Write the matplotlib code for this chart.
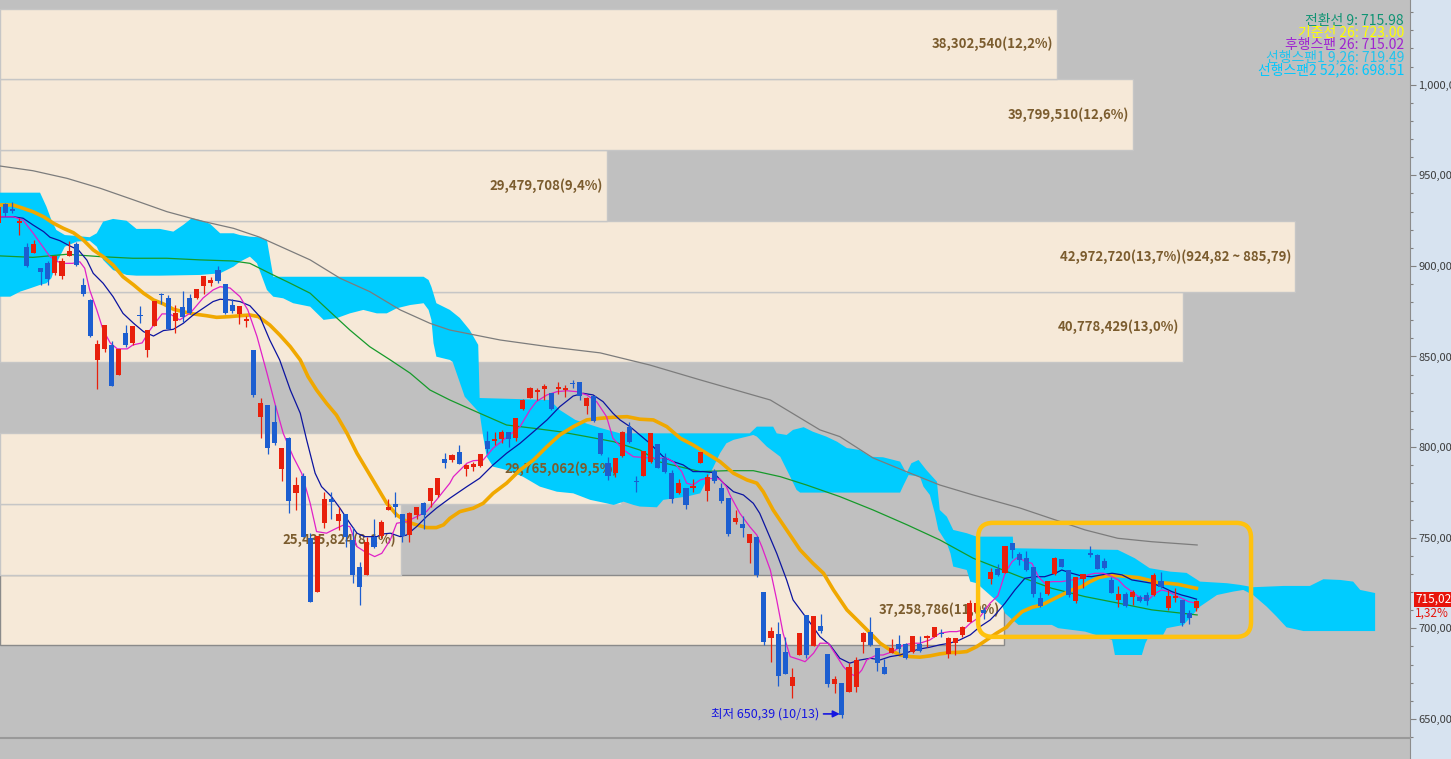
import numpy as np
import matplotlib
matplotlib.use("Agg")
import matplotlib.pyplot as plt
from matplotlib import transforms
from matplotlib.patches import FancyBboxPatch
from matplotlib.ticker import MultipleLocator, FuncFormatter

plt.rcParams['font.family'] = ['Noto Sans CJK KR', 'DejaVu Sans']

# daily candles, first one is index -1 (half cut at the left edge)
opens = [923.7, 934.1, 931.4, 923.9, 910.6, 907.3, 899.0, 901.8, 896.3, 894.4,
         905.5, 912.1, 889.5, 881.2, 848.1, 854.2, 856.4, 839.8, 863.0, 857.6,
         873.1, 853.6, 867.0, 884.7, 882.3, 869.6, 877.5, 882.1, 882.5, 889.1,
         890.7, 897.7, 889.8, 878.4, 873.5, 869.8, 853.6, 816.8, 823.3, 813.7,
         787.9, 804.9, 774.9, 784.1, 749.7, 719.9, 758.3, 771.4, 759.4, 763.1,
         748.8, 734.0, 729.5, 750.6, 751.0, 765.3, 768.6, 763.1, 751.5, 762.6,
         769.0, 770.5, 773.6, 793.3, 792.9, 797.2, 787.9, 788.9, 789.6, 803.4,
         803.4, 804.5, 808.5, 804.9, 820.9, 826.9, 830.3, 832.1, 829.7, 832.1,
         831.7, 835.2, 835.8, 822.9, 828.2, 807.6, 791.1, 785.6, 795.1, 811.3,
         781.3, 784.3, 792.0, 801.6, 793.9, 785.6, 774.5, 777.3, 777.3, 791.4,
         776.0, 786.8, 777.3, 771.8, 758.9, 757.6, 747.3, 750.6, 720.2, 694.9,
         696.9, 686.8, 668.4, 685.3, 707.4, 690.5, 701.3, 685.9, 669.3, 669.7,
         665.1, 667.8, 692.6, 698.2, 689.0, 678.9, 686.6, 691.4, 691.4, 686.8,
         691.4, 694.9, 695.4, 697.6, 685.7, 692.1, 696.4, 703.4, 709.0, 710.0,
         727.3, 732.6, 730.7, 746.9, 741.1, 738.7, 733.7, 716.6, 718.8, 729.9,
         738.1, 732.2, 715.3, 727.1, 741.4, 740.5, 737.2, 726.7, 715.7, 719.0,
         717.5, 717.5, 718.4, 718.4, 726.2, 711.1, 716.9, 715.7, 708.3, 711.1]
highs = [932.5, 934.5, 935.4, 926.3, 912.5, 914.3, 899.0, 902.7, 905.5, 904.5,
         913.9, 913.0, 893.5, 881.7, 859.1, 867.4, 858.7, 854.2, 867.4, 866.8,
         878.0, 864.6, 880.6, 885.2, 883.9, 878.4, 886.2, 884.3, 887.3, 894.4,
         894.0, 899.9, 889.8, 881.6, 877.9, 872.5, 853.6, 827.0, 823.3, 823.3,
         799.4, 805.8, 783.7, 785.9, 752.5, 751.0, 775.4, 775.4, 767.1, 763.1,
         756.1, 736.8, 750.6, 760.2, 759.8, 771.2, 775.4, 763.1, 764.4, 767.2,
         769.9, 777.3, 782.8, 796.9, 796.1, 801.2, 790.6, 792.0, 796.2, 808.9,
         808.5, 809.5, 808.5, 815.9, 826.4, 833.4, 832.5, 834.8, 829.7, 836.1,
         834.3, 837.0, 836.1, 827.5, 828.2, 807.6, 794.7, 793.9, 808.9, 814.0,
         784.1, 797.9, 807.6, 801.6, 796.6, 787.4, 782.3, 777.3, 782.3, 797.2,
         785.2, 787.8, 780.1, 771.8, 765.3, 762.0, 751.9, 751.0, 720.2, 700.6,
         703.7, 695.4, 678.3, 697.6, 707.4, 706.8, 707.8, 685.9, 673.9, 669.7,
         680.7, 684.4, 698.2, 706.1, 689.0, 683.1, 694.0, 696.4, 691.8, 695.8,
         695.8, 696.4, 700.9, 699.5, 695.4, 694.5, 701.5, 715.7, 716.0, 712.0,
         733.2, 735.5, 745.5, 746.9, 742.3, 742.7, 733.7, 720.2, 726.2, 739.2,
         738.1, 732.2, 728.5, 730.0, 745.5, 741.1, 738.7, 728.5, 723.4, 720.2,
         721.2, 718.4, 719.9, 730.4, 731.2, 721.2, 722.5, 715.7, 710.2, 715.7]
lows = [923.7, 927.7, 929.0, 917.0, 899.6, 907.3, 889.5, 889.5, 895.0, 892.6,
        905.5, 899.9, 883.6, 860.6, 832.1, 852.7, 833.9, 839.8, 855.4, 856.4,
        868.7, 849.9, 867.0, 878.8, 865.2, 862.8, 869.2, 873.4, 881.7, 884.5,
        889.1, 890.7, 873.4, 873.8, 867.8, 866.5, 827.8, 804.9, 796.0, 801.2,
        781.5, 763.5, 765.3, 750.6, 714.7, 719.9, 755.2, 760.2, 754.3, 745.1,
        724.9, 712.9, 729.5, 744.2, 749.7, 765.3, 761.6, 747.8, 747.8, 760.2,
        754.7, 767.2, 772.3, 788.4, 791.9, 790.5, 784.3, 786.8, 788.9, 796.9,
        801.2, 802.1, 799.9, 803.6, 820.5, 826.9, 826.0, 826.0, 820.5, 829.3,
        827.8, 832.5, 826.0, 818.1, 814.0, 795.7, 781.9, 783.4, 794.7, 802.1,
        775.4, 784.3, 791.1, 788.6, 785.6, 769.4, 774.0, 765.7, 775.4, 791.4,
        770.5, 780.1, 769.0, 751.0, 757.6, 750.6, 736.2, 728.5, 690.8, 681.6,
        668.2, 674.9, 661.8, 685.3, 683.5, 690.5, 697.6, 667.8, 664.2, 650.39,
        665.1, 665.1, 686.3, 690.3, 676.5, 674.7, 686.6, 686.3, 683.0, 686.3,
        687.1, 689.6, 695.1, 695.4, 683.9, 685.3, 695.4, 703.4, 707.0, 705.0,
        724.5, 728.9, 730.7, 738.7, 735.0, 731.7, 717.5, 712.0, 718.4, 729.5,
        734.0, 717.5, 713.9, 722.1, 739.6, 732.8, 732.6, 719.4, 712.0, 712.0,
        712.9, 714.7, 712.9, 717.9, 722.5, 710.2, 714.7, 701.5, 702.3, 709.8]
closes = [932.5, 929.4, 930.3, 924.6, 900.1, 912.1, 896.6, 893.0, 905.5, 902.7,
          908.2, 900.5, 884.5, 861.5, 856.9, 867.4, 833.9, 854.2, 856.4, 866.8,
          872.4, 864.6, 880.6, 884.1, 865.2, 873.8, 872.0, 873.8, 887.3, 894.4,
          892.2, 891.8, 873.8, 875.1, 877.9, 870.7, 828.8, 824.2, 799.7, 802.5,
          799.4, 770.5, 779.1, 750.6, 714.7, 751.0, 771.4, 769.9, 763.1, 750.6,
          729.5, 723.0, 747.8, 745.1, 758.9, 767.2, 767.2, 751.0, 763.5, 767.2,
          762.6, 777.3, 782.8, 791.1, 795.7, 790.5, 790.1, 790.7, 796.2, 798.8,
          804.5, 808.5, 804.5, 815.9, 826.0, 832.5, 831.5, 833.9, 820.9, 833.0,
          832.6, 834.7, 828.2, 826.9, 814.6, 796.2, 784.1, 793.9, 808.2, 803.0,
          780.6, 797.9, 807.6, 788.6, 786.5, 771.4, 780.1, 768.1, 778.6, 797.2,
          783.4, 781.5, 770.5, 752.1, 760.7, 755.2, 751.9, 729.5, 692.7, 698.7,
          673.8, 674.9, 673.4, 697.6, 685.3, 706.8, 698.6, 669.3, 672.1, 652.0,
          678.9, 682.6, 697.6, 690.9, 680.7, 674.7, 689.0, 688.6, 683.5, 695.8,
          687.7, 695.8, 700.6, 696.9, 694.9, 694.5, 700.9, 713.9, 714.0, 708.3,
          731.2, 729.5, 745.5, 743.3, 737.7, 732.2, 718.8, 712.5, 726.2, 738.7,
          734.0, 718.4, 728.5, 730.0, 740.5, 732.8, 733.5, 719.7, 719.0, 712.4,
          720.2, 715.3, 715.3, 729.5, 723.0, 718.0, 718.0, 703.2, 705.7, 715.02]
low_date = "10/13"

# moving averages: (bar position, price)
ma5 = [(-0.75, 927.1), (1.1, 927.1), (2.5, 925.3), (3.9, 918.2), (5.3, 910.6), (6.3, 905.1),
       (7.4, 902.3), (8.4, 901.4), (9.5, 901.4), (10.5, 902.3), (11.2, 898.7), (11.9, 886.7),
       (12.9, 875.7), (13.8, 864.6), (14.8, 857.5), (15.8, 854.2), (17.2, 854.2), (18.0, 856.4),
       (19.3, 857.5), (20.4, 864.6), (22.1, 873.5), (23.2, 873.5), (24.6, 870.2), (26.1, 874.0),
       (27.9, 882.3), (29.3, 886.7), (30.3, 888.5), (31.7, 887.8), (33.1, 883.0), (34.2, 875.7),
       (35.5, 861.0), (36.9, 840.9), (38.0, 824.4), (39.2, 807.6), (40.6, 794.7), (41.8, 785.6),
       (43.0, 769.0), (43.9, 753.4), (45.3, 752.5), (46.7, 755.2), (47.7, 757.0), (48.6, 756.1),
       (49.6, 745.1), (50.7, 742.3), (52.1, 739.6), (53.1, 741.4), (54.3, 748.8), (55.2, 758.0),
       (56.6, 758.9), (58.0, 761.6), (59.4, 764.4), (60.8, 770.8), (62.7, 780.1), (63.2, 783.7),
       (65.1, 791.1), (66.0, 792.5), (67.4, 792.9), (68.8, 799.4), (70.7, 805.4), (72.6, 811.3),
       (74.0, 820.5), (74.9, 825.1), (76.4, 828.8), (77.8, 830.6), (79.2, 831.1), (80.6, 830.6),
       (82.0, 828.8), (83.4, 825.1), (84.8, 816.8), (85.7, 804.9), (87.2, 798.4), (88.6, 794.7),
       (91.4, 793.9), (93.3, 793.9), (94.2, 792.0), (95.4, 786.5), (96.1, 780.1), (97.0, 779.1),
       (98.0, 781.9), (98.9, 782.8), (100.8, 782.4), (101.7, 778.2), (102.2, 773.6), (103.6, 763.5),
       (105.0, 756.1), (106.0, 751.5), (106.7, 745.1), (107.9, 732.2), (108.8, 715.7), (109.7, 697.3),
       (110.7, 684.4), (112.1, 682.6), (112.8, 681.6), (114.0, 686.3), (114.9, 691.8), (116.1, 691.8),
       (117.0, 686.3), (118.2, 678.9), (119.1, 675.2), (120.0, 673.4), (120.8, 677.0), (121.5, 682.6),
       (122.9, 685.3), (123.8, 685.3), (125.2, 687.2), (126.7, 690.9), (128.1, 691.8), (129.0, 691.8),
       (130.4, 693.6), (131.8, 697.3), (133.2, 698.2), (134.2, 698.2), (135.1, 699.1), (136.1, 702.8),
       (137.5, 706.5), (138.9, 713.9), (140.0, 718.0), (141.0, 730.4), (142.0, 736.8), (142.9, 739.6),
       (143.8, 736.8), (144.8, 735.9), (145.7, 728.5), (146.6, 724.9), (147.6, 725.8), (149.0, 725.8),
       (150.4, 726.7), (151.8, 727.6), (152.7, 729.5), (153.7, 730.4), (154.9, 730.4), (156.1, 728.5),
       (157.0, 726.7), (157.9, 723.0), (158.9, 720.3), (159.8, 717.5), (161.2, 715.7), (162.2, 719.4),
       (163.1, 721.2), (164.0, 720.3), (165.0, 718.4), (165.9, 716.6), (166.9, 714.7), (168.0, 713.9)]
ma10 = [(-0.75, 927.1), (1.1, 927.1), (2.5, 926.3), (3.9, 922.6), (5.4, 918.9), (6.3, 915.8),
        (7.7, 913.9), (9.1, 911.0), (10.3, 908.8), (11.5, 903.2), (12.4, 895.9), (13.8, 890.4),
        (15.2, 883.0), (16.6, 873.8), (18.1, 868.3), (19.5, 863.7), (20.9, 861.3), (22.3, 864.3),
        (23.7, 865.0), (25.1, 868.3), (26.5, 872.9), (27.9, 876.6), (29.3, 880.3), (30.3, 881.6),
        (31.7, 881.2), (33.1, 880.3), (34.5, 878.0), (35.9, 872.0), (37.3, 859.1), (38.7, 848.1),
        (40.2, 831.5), (41.6, 818.7), (42.5, 804.0), (43.7, 785.6), (44.6, 778.2), (46.0, 772.7),
        (47.2, 766.3), (48.6, 758.0), (49.6, 752.5), (50.7, 750.6), (52.4, 750.6), (53.3, 752.1),
        (54.3, 752.5), (55.7, 750.6), (56.6, 751.5), (58.0, 756.1), (59.4, 761.6), (60.8, 766.3),
        (62.7, 771.8), (65.1, 778.2), (66.9, 782.8), (68.8, 790.2), (70.7, 796.6), (72.6, 802.1),
        (74.5, 808.5), (76.4, 815.0), (78.2, 822.3), (80.1, 828.2), (81.5, 829.7), (82.9, 828.8),
        (84.3, 825.1), (85.7, 818.7), (86.7, 815.0), (88.1, 811.3), (89.5, 806.7), (90.9, 802.1),
        (92.8, 794.7), (94.2, 792.0), (95.6, 790.2), (97.0, 786.5), (98.4, 786.5), (99.9, 785.9),
        (101.3, 780.1), (102.7, 775.4), (104.1, 773.6), (105.5, 769.0), (106.4, 763.5), (107.4, 754.3),
        (108.8, 741.4), (110.2, 726.7), (111.1, 715.7), (112.5, 708.3), (113.9, 701.0), (114.9, 695.4),
        (116.3, 690.9), (117.7, 683.5), (119.1, 680.8), (120.5, 682.5), (122.0, 683.5), (123.4, 682.6),
        (124.8, 684.4), (126.2, 685.3), (127.6, 687.2), (129.0, 688.6), (130.4, 689.6), (131.8, 690.9),
        (133.2, 691.8), (134.6, 693.6), (136.1, 696.4), (137.5, 701.0), (138.9, 704.6), (139.6, 707.4),
        (141.0, 713.9), (142.4, 721.2), (143.8, 727.6), (145.2, 728.5), (146.6, 728.5), (148.1, 730.4),
        (149.0, 732.2), (150.4, 730.4), (151.8, 728.9), (153.2, 728.5), (154.6, 729.5), (156.1, 730.4),
        (157.5, 729.5), (158.9, 726.7), (160.3, 725.8), (161.7, 724.9), (163.1, 723.0), (164.5, 720.3),
        (165.9, 718.4), (166.8, 717.5), (168.0, 716.1)]
ma20 = [(-0.75, 933.6), (1.1, 933.6), (2.5, 931.8), (3.9, 929.9), (5.4, 927.1), (6.8, 923.5),
        (8.2, 920.7), (9.6, 918.3), (11.0, 914.3), (12.4, 908.8), (13.8, 905.1), (15.2, 900.5),
        (16.6, 894.0), (18.1, 889.5), (19.5, 884.9), (20.9, 881.2), (22.3, 879.0), (23.7, 876.1),
        (25.1, 874.7), (26.5, 873.5), (28.4, 872.5), (29.8, 871.6), (31.7, 872.0), (33.1, 872.5),
        (34.5, 872.9), (35.7, 872.0), (37.3, 867.4), (38.7, 861.9), (40.2, 855.4), (41.6, 848.1),
        (42.7, 838.9), (43.9, 831.5), (45.3, 824.2), (46.7, 817.7), (48.2, 807.6), (49.6, 796.6),
        (51.0, 787.4), (52.4, 778.2), (53.8, 769.0), (55.2, 762.6), (56.6, 758.9), (58.0, 757.1),
        (59.4, 755.6), (60.8, 755.6), (61.8, 757.1), (62.7, 760.7), (64.1, 764.4), (66.0, 766.3),
        (67.4, 769.0), (68.8, 774.5), (70.7, 780.1), (72.6, 787.4), (74.5, 792.9), (76.4, 800.3),
        (78.2, 806.7), (80.1, 811.3), (82.0, 815.0), (83.9, 815.9), (85.8, 816.5), (87.7, 816.8),
        (89.5, 815.4), (91.4, 815.0), (93.3, 811.3), (95.2, 804.9), (97.0, 801.2), (98.9, 796.6),
        (100.8, 792.0), (102.7, 785.6), (104.6, 781.9), (106.0, 780.1), (106.9, 775.4), (108.3, 765.3),
        (110.2, 754.3), (112.1, 743.3), (113.9, 735.9), (115.4, 730.4), (116.8, 721.2), (118.7, 710.2),
        (120.6, 702.8), (122.0, 697.3), (123.4, 691.8), (124.8, 688.1), (126.2, 685.3), (127.6, 684.4),
        (129.0, 684.1), (130.4, 684.8), (131.8, 685.9), (133.2, 686.6), (134.6, 686.8), (135.6, 687.2),
        (137.0, 689.9), (138.4, 693.6), (139.8, 697.3), (141.2, 700.6), (141.9, 703.7), (143.4, 709.2),
        (144.8, 711.6), (146.2, 712.9), (147.6, 715.7), (149.0, 718.4), (150.4, 721.2), (151.8, 723.0),
        (152.7, 725.2), (154.2, 728.0), (155.6, 729.1), (157.0, 729.1), (158.4, 728.5), (159.8, 728.0),
        (161.2, 726.7), (162.6, 725.2), (164.0, 724.9), (165.4, 724.3), (166.9, 723.0), (168.0, 722.1)]
ma60 = [(-0.75, 905.5), (3.9, 904.7), (8.7, 906.4), (13.4, 905.1), (18.0, 904.2), (22.8, 904.2),
        (27.5, 903.3), (32.1, 902.7), (34.5, 901.4), (37.3, 895.9), (40.2, 890.4), (43.0, 884.9),
        (45.8, 874.7), (48.6, 864.6), (51.4, 855.4), (54.3, 848.1), (57.1, 840.8), (59.9, 831.5),
        (62.7, 826.0), (66.9, 818.7), (70.7, 812.2), (74.5, 810.4), (78.2, 808.5), (82.0, 805.8),
        (85.8, 803.0), (89.5, 798.4), (92.3, 791.8), (98.0, 786.5), (101.8, 787.0), (105.5, 787.0),
        (109.3, 783.7), (113.0, 779.1), (117.7, 772.7), (122.4, 765.3), (127.2, 757.1), (131.8, 748.8),
        (136.5, 738.7), (143.1, 728.5), (147.6, 722.1), (152.3, 717.5), (157.0, 713.9), (161.7, 710.2),
        (168.1, 707.4)]
ma120 = [(-0.75, 955.1), (3.9, 952.5), (8.7, 948.3), (13.4, 942.8), (18.1, 936.4), (22.8, 929.9),
         (27.5, 924.9), (32.2, 920.7), (35.9, 915.8), (43.0, 903.3), (47.2, 893.2), (51.4, 885.8),
         (55.7, 875.7), (59.9, 868.3), (62.7, 864.6), (69.8, 859.1), (76.8, 855.3), (83.9, 852.0),
         (90.9, 845.3), (98.0, 837.1), (107.9, 826.0), (114.9, 809.5), (117.7, 805.8), (122.4, 794.0),
         (127.2, 786.3), (131.8, 779.1), (136.5, 773.6), (143.1, 766.4), (152.3, 754.3), (156.9, 749.7),
         (161.7, 747.8), (168.1, 746.0)]

# ichimoku cloud outline (upper and lower envelope), 26 bars ahead
cloud_top = [(-0.75, 940.4), (4.9, 940.4), (5.8, 932.7), (6.5, 925.3), (7.2, 919.8), (8.4, 917.0),
             (10.1, 916.5), (11.9, 915.8), (12.9, 918.0), (13.8, 924.4), (15.2, 925.9), (17.1, 924.9),
             (18.5, 920.4), (21.8, 920.4), (23.7, 918.9), (25.1, 922.6), (26.3, 926.3), (27.5, 925.3),
             (28.9, 923.1), (30.3, 918.0), (32.2, 918.0), (33.1, 917.0), (34.5, 916.1), (35.9, 915.8),
             (36.9, 914.3), (37.8, 894.0), (59.0, 894.0), (59.7, 892.2), (60.1, 888.4), (60.8, 879.4),
             (62.7, 875.7), (64.1, 871.3), (65.5, 864.6), (66.7, 856.4), (66.9, 827.1), (76.8, 826.0),
             (78.2, 820.5), (80.4, 815.0), (83.9, 810.6), (86.7, 807.6), (105.0, 807.6), (106.0, 811.3),
             (108.3, 811.3), (108.8, 807.6), (110.2, 806.7), (111.1, 809.5), (112.6, 811.0), (113.9, 808.5),
             (115.8, 805.8), (117.3, 803.0), (118.7, 799.5), (120.5, 798.4), (122.0, 794.7), (123.8, 794.4),
             (126.2, 792.0), (127.1, 785.6), (127.8, 791.1), (128.8, 792.9), (129.9, 787.4), (131.4, 780.9),
             (131.6, 772.7), (131.8, 765.3), (132.8, 761.6), (133.7, 754.3), (135.6, 752.5), (137.0, 750.6),
             (142.1, 750.6), (142.2, 744.2), (156.9, 743.3), (157.9, 741.4), (159.3, 738.7), (161.4, 733.2),
             (164.3, 731.3), (166.6, 730.6), (168.5, 725.8), (172.3, 724.9), (174.1, 724.0), (176.0, 722.7),
             (180.3, 723.4), (184.0, 723.4), (185.9, 727.1), (188.3, 726.7), (190.1, 725.8), (191.1, 721.2),
             (193.2, 719.49)]
cloud_bot = [(-0.75, 883.0), (0.7, 883.0), (2.1, 885.8), (3.5, 887.6), (4.9, 889.5), (5.8, 890.4),
             (6.5, 893.2), (7.2, 901.4), (8.4, 910.6), (10.1, 913.4), (11.9, 913.9), (12.9, 910.6),
             (13.8, 903.3), (15.2, 897.7), (17.1, 895.0), (18.5, 894.6), (21.8, 894.6), (27.5, 895.0),
             (30.3, 895.9), (32.2, 899.6), (33.1, 902.3), (34.5, 905.1), (35.5, 901.4), (36.9, 886.7),
             (37.8, 883.0), (39.2, 882.1), (40.6, 879.4), (43.0, 877.5), (44.9, 870.2), (46.7, 871.1),
             (48.6, 873.8), (50.5, 875.7), (52.4, 873.8), (53.8, 873.8), (55.2, 876.6), (57.1, 878.4),
             (59.0, 879.4), (59.7, 875.7), (60.1, 870.2), (60.4, 857.3), (60.8, 849.9), (62.7, 848.1),
             (63.1, 847.0), (64.8, 827.8), (66.9, 818.8), (67.4, 805.8), (67.9, 794.7), (68.8, 789.2),
             (70.7, 787.4), (73.0, 783.7), (75.4, 778.2), (77.8, 775.4), (80.1, 774.5), (82.5, 770.9),
             (84.8, 769.0), (85.8, 768.1), (87.2, 769.9), (88.6, 768.1), (89.5, 767.2), (91.9, 766.8),
             (92.8, 770.9), (96.1, 772.7), (98.0, 774.5), (99.9, 789.2), (100.8, 796.6), (101.7, 802.1),
             (102.7, 804.0), (104.6, 805.8), (105.5, 806.7), (106.0, 805.8), (107.4, 800.3), (109.3, 794.7),
             (110.7, 783.7), (111.6, 776.4), (112.1, 774.9), (126.2, 774.9), (126.7, 779.1), (127.4, 784.6),
             (129.0, 783.7), (129.5, 778.2), (130.4, 773.6), (131.1, 763.5), (131.6, 754.3), (132.8, 746.9),
             (133.3, 741.4), (133.7, 734.1), (135.6, 732.2), (136.1, 725.8), (137.0, 724.9), (140.6, 712.4),
             (141.0, 708.3), (142.9, 701.9), (147.6, 701.9), (148.5, 700.1), (152.3, 698.2), (156.1, 693.6),
             (156.5, 685.3), (160.3, 685.3), (160.8, 691.8), (161.4, 696.4), (163.3, 696.4), (163.8, 700.1),
             (166.2, 701.9), (168.5, 712.0), (170.9, 718.4), (173.2, 720.3), (174.6, 721.2), (176.0, 718.4),
             (177.9, 712.0), (179.3, 706.5), (180.7, 700.6), (183.1, 698.51), (193.2, 698.51)]

# volume by price (band bottoms), band height 39.03
band_low = [690.64, 729.67, 768.70, 846.76, 885.79, 924.82, 963.85, 1002.88]
band_vol = [37258786, 25435824, 29765062, 40778429, 42972720, 29479708, 39799510, 38302540]
band_pct = [11.9, 8.1, 9.5, 13.0, 13.7, 9.4, 12.6, 12.2]
band_step = 39.03

ichi_names = ['전환선 9', '기준선 26', '후행스팬 26', '선행스팬1 9,26', '선행스팬2 52,26']
ichi_vals = [715.98, 723.00, 715.02, 719.49, 698.51]
ichi_colors = ['#109474', '#ffff00', '#a024d0', '#22c4ee', '#00c8ff']

# highlight box (bars / price)
box_x = (137.2, 175.7)
box_y = (695.3, 758.2)

RED, BLUE = '#e8200c', '#1c5ed0'
BG, BEIGE = '#c0c0c0', '#f6e9d8'


def comma_dec(v, nd=2):
    return f"{v:,.{nd}f}".replace('.', '\x00').replace('\x00', ',')


fig = plt.figure(figsize=(14.51, 7.59), dpi=100, facecolor='#d7e3f0')
ax = fig.add_axes([0, 21 / 759, 1410 / 1451, 738 / 759])
ax_vp = ax.twiny()
ax_vp.set_zorder(0)
ax.set_zorder(1)
ax.patch.set_visible(False)
ax_vp.patch.set_visible(True)
ax_vp.patch.set_facecolor(BG)

ax.set_xlim(-0.748, 198.12)
ax.set_ylim(639.5, 1046.7)
ax_vp.set_xlim(17.58e6, 45.23e6)
ax_vp.xaxis.set_visible(False)
for a in (ax, ax_vp):
    for s in a.spines.values():
        s.set_visible(False)
ax.spines['right'].set_visible(True)
ax.spines['right'].set_color('#8c8c8c')
ax.spines['bottom'].set_visible(True)
ax.spines['bottom'].set_color('#999999')
ax.spines['bottom'].set_linewidth(1.5)

# volume profile bars
for i, (lo, v) in enumerate(zip(band_low, band_vol)):
    ec = '#8a8a8a' if i == 0 else '#c6c6c6'
    ax_vp.barh(lo + band_step / 2, v - 17.58e6, left=17.58e6, height=band_step,
               color=BEIGE, edgecolor=ec, linewidth=1)

vp_tr = transforms.blended_transform_factory(ax_vp.transData, ax.transData)
imax = int(np.argmax(band_vol))
for i, (lo, v, p) in enumerate(zip(band_low, band_vol, band_pct)):
    txt = f"{v:,}({comma_dec(p, 1)}%)"
    if i == imax:
        txt += f"({comma_dec(lo + band_step)} ~ {comma_dec(lo)})"
    ax.annotate(txt, xy=(v, lo + band_step / 2), xycoords=vp_tr, xytext=(-4, 0),
                textcoords='offset pixels', ha='right', va='center',
                fontsize=9.5, fontweight='bold', color='#7b5c2e', zorder=3)

# cloud
tx, ty = zip(*cloud_top)
bx, by = zip(*cloud_bot)
ax.fill(list(tx) + list(bx[::-1]), list(ty) + list(by[::-1]),
        color='#00ccff', lw=0, zorder=2)

# moving averages
for data, col, lw, z in [(ma120, '#7c7c7c', 0.9, 4), (ma60, '#169a2a', 0.9, 4),
                         (ma20, '#f0a800', 2.6, 5), (ma10, '#0c14a0', 0.9, 5),
                         (ma5, '#e020c8', 0.9, 5)]:
    xs, ys = zip(*data)
    ax.plot(xs, ys, color=col, lw=lw, zorder=z, solid_joinstyle='round')

# candles
o = np.array(opens); h = np.array(highs); l = np.array(lows); c = np.array(closes)
idx = np.arange(len(o)) - 1
cols = np.where(c >= o, RED, BLUE)
ax.vlines(idx, l, h, colors=cols, lw=0.9, zorder=6)
ax.bar(idx, np.maximum(np.abs(c - o), 0.6), bottom=np.minimum(o, c), width=0.72,
       color=cols, lw=0, zorder=7)

# lowest price note
il = int(np.argmin(l))
ax.text(idx[il] - 3.2, l[il] + 2.4, f"최저 {comma_dec(l[il])} ({low_date})",
        ha='right', va='center', fontsize=9, color='#1616e0', zorder=8)
ax.annotate('', xy=(idx[il] - 0.3, l[il] + 2.4), xytext=(idx[il] - 2.6, l[il] + 2.4),
            arrowprops=dict(arrowstyle='-|>', color='#1616e0', lw=1.2,
                            mutation_scale=10, shrinkA=0, shrinkB=0), zorder=8)

# highlight box
box = FancyBboxPatch((box_x[0], box_y[0]), box_x[1] - box_x[0], box_y[1] - box_y[0],
                     boxstyle='round,pad=0,rounding_size=2.1', mutation_aspect=3.95,
                     fc='none', ec='#ffc20e', lw=3.2, zorder=9)
ax.add_patch(box)

# right price axis
ax.set_xticks([])
ax.yaxis.tick_right()
ax.yaxis.set_major_locator(MultipleLocator(50))
ax.yaxis.set_minor_locator(MultipleLocator(10))
ax.yaxis.set_major_formatter(FuncFormatter(lambda v, p: comma_dec(v)))
ax.tick_params(axis='y', which='major', length=4.5, width=0.8, color='#808080',
               pad=1.5, labelsize=8, labelcolor='#3c3c3c')
ax.tick_params(axis='y', which='minor', length=2.5, width=0.8, color='#808080')

# current price tag
ptr = transforms.blended_transform_factory(ax.transAxes, ax.transData)
chg = (c[-1] / c[-2] - 1) * 100
ax.text(1.0 + 5 / 1410, c[-1] + 1.0, comma_dec(c[-1]), transform=ptr, ha='left',
        va='center', fontsize=8.5, color='white', clip_on=False, zorder=10,
        bbox=dict(boxstyle='square,pad=0.1', fc='#e8140c', ec='none'))
ax.annotate(f"{comma_dec(chg)}%", xy=(1.0, c[-1]), xycoords=ptr, xytext=(5, -12),
            textcoords='offset pixels', ha='left', va='center', fontsize=8.5,
            color='#e8140c', annotation_clip=False, zorder=10)

# ichimoku legend
for k, (n, v, col) in enumerate(zip(ichi_names, ichi_vals, ichi_colors)):
    fig.text(1404 / 1451, 1 - (20.5 + 12.3 * k) / 759, f"{n}: {v:.2f}", ha='right',
             va='center', fontsize=10, color=col)

# lower panel strip
ax2 = fig.add_axes([0, 0, 1410 / 1451, 20 / 759], facecolor=BG)
ax2.set_xticks([]); ax2.set_yticks([])
for s in ax2.spines.values():
    s.set_visible(False)
ax2.spines['right'].set_visible(True)
ax2.spines['right'].set_color('#8c8c8c')

fig.savefig('out.png', dpi=100, facecolor=fig.get_facecolor())
